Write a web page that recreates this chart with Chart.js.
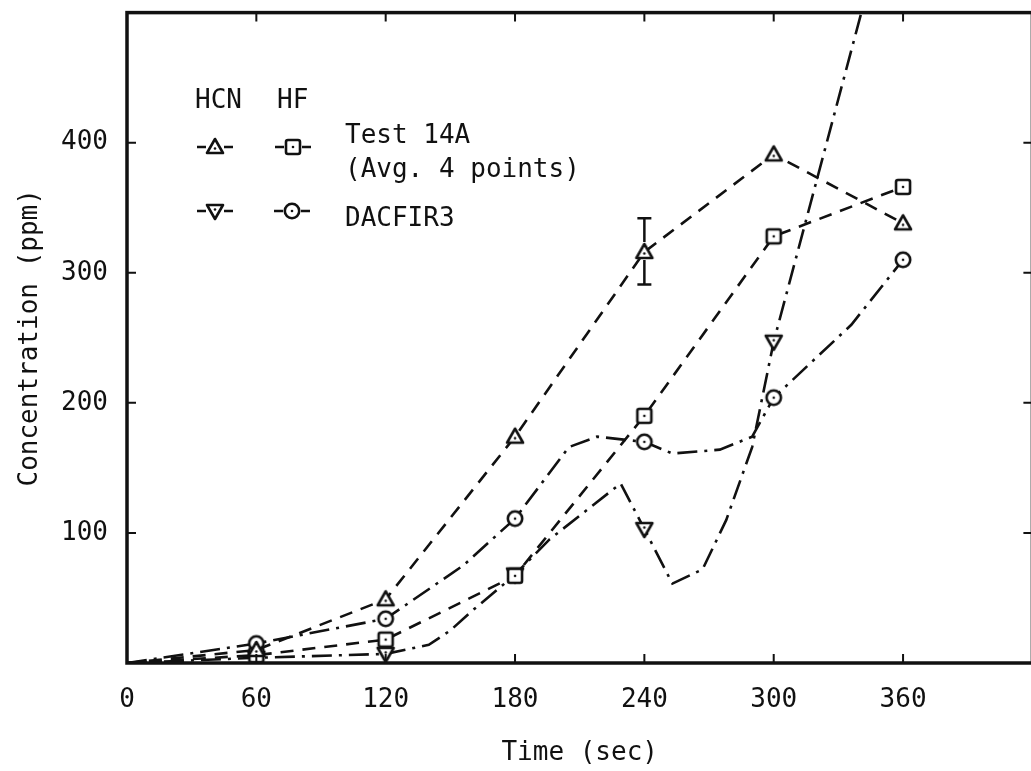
<!DOCTYPE html>
<html>
<head>
<meta charset="utf-8">
<script src="https://cdn.jsdelivr.net/npm/chart.js@4"></script>
<style>
  html, body { margin: 0; padding: 0; background: #fff; overflow: hidden; }
  canvas { display: block; margin-top: -22px; }
</style>
</head>
<body>
<canvas id="c" width="1043" height="793"></canvas>
<script>
// Test 14A, measured (sec / ppm)
const testTimes = [0, 60, 120, 180, 240, 300, 360];
const testHCN = [0, 10, 49, 174, 316, 391, 338];
const testHF = [0, 6, 18, 67, 190, 328, 366];

// error bar on HCN at 240 s
const errTimes = [240];
const errLow = [291];
const errHigh = [342];

// DACFIR3 model curves
const dacHcnTimes = [0, 60, 120, 140, 150, 160, 173, 180, 196, 229, 240, 253, 267, 278, 290, 300, 345];
const dacHcnVals = [0, 4, 7, 14, 25, 40, 58, 68, 95, 138, 103, 61, 72, 110, 166, 247, 527];
const dacHfTimes = [0, 60, 120, 156, 180, 205, 218, 240, 253, 275, 290, 300, 336, 360];
const dacHfVals = [0, 15, 34, 75, 111, 166, 174, 170, 161, 164, 174, 204, 260, 310];

const markerTimes = [60, 120, 180, 240, 300, 360];
const xTicks = [0, 60, 120, 180, 240, 300, 360];
const yTicks = [100, 200, 300, 400];

const FONT = "'DejaVu Sans Mono', monospace";
const INK = '#111';
const SHIFT = 22; // canvas is pulled up by this many px

function makeMarker(shape) {
  const c = document.createElement('canvas');
  c.width = 22; c.height = 22;
  const g = c.getContext('2d');
  g.lineWidth = 2.6;
  g.strokeStyle = INK;
  g.fillStyle = '#fff';
  g.lineJoin = 'round';
  g.beginPath();
  let dy = 11;
  if (shape === 'up') {
    g.moveTo(11, 3); g.lineTo(19, 17); g.lineTo(3, 17); g.closePath(); dy = 12.5;
  } else if (shape === 'down') {
    g.moveTo(3, 5); g.lineTo(19, 5); g.lineTo(11, 19); g.closePath(); dy = 9.5;
  } else if (shape === 'square') {
    g.roundRect ? g.roundRect(4, 4, 14, 14, 2) : g.rect(4, 4, 14, 14);
  } else {
    g.arc(11, 11, 7.2, 0, Math.PI * 2);
  }
  g.fill(); g.stroke();
  g.fillStyle = INK;
  g.beginPath(); g.arc(11, dy, 1.3, 0, Math.PI * 2); g.fill();
  return c;
}
const mUp = makeMarker('up'), mDown = makeMarker('down'), mSq = makeMarker('square'), mCirc = makeMarker('circle');

const pts = (t, v) => t.map((x, i) => ({ x, y: v[i] }));
const markRadius = ctx => (ctx.raw && markerTimes.includes(ctx.raw.x)) ? 8 : 0;
const DASH = [13, 9];
const DASHDOT = [20, 7, 3, 7];

const framePlugin = {
  id: 'frame',
  afterDraw(chart) {
    const { ctx, chartArea: a, scales: { x, y } } = chart;
    ctx.save();
    ctx.strokeStyle = INK;
    // error bar
    ctx.lineWidth = 2.5;
    errTimes.forEach((t, i) => {
      const px = x.getPixelForValue(t);
      const lo = y.getPixelForValue(errLow[i]);
      const hi = y.getPixelForValue(errHigh[i]);
      const mid = y.getPixelForValue(testHCN[testTimes.indexOf(t)]);
      ctx.beginPath();
      ctx.moveTo(px, hi); ctx.lineTo(px, mid - 10);
      ctx.moveTo(px, mid + 8); ctx.lineTo(px, lo);
      ctx.moveTo(px - 7, hi); ctx.lineTo(px + 7, hi);
      ctx.moveTo(px - 7, lo); ctx.lineTo(px + 7, lo);
      ctx.stroke();
    });
    // frame
    ctx.lineWidth = 3.5;
    ctx.strokeRect(a.left, a.top, a.right - a.left, a.bottom - a.top);
    // inward ticks
    ctx.lineWidth = 2;
    ctx.beginPath();
    markerTimes.forEach(t => {
      const px = x.getPixelForValue(t);
      ctx.moveTo(px, a.bottom); ctx.lineTo(px, a.bottom - 9);
      ctx.moveTo(px, a.top); ctx.lineTo(px, a.top + 9);
    });
    yTicks.forEach(v => {
      const py = y.getPixelForValue(v);
      ctx.moveTo(a.left, py); ctx.lineTo(a.left + 9, py);
      ctx.moveTo(a.right, py); ctx.lineTo(a.right - 9, py);
    });
    ctx.stroke();

    // legend (positions in page pixels)
    ctx.translate(0, SHIFT);
    ctx.fillStyle = INK;
    ctx.font = "26px " + FONT;
    ctx.textBaseline = 'middle';
    ctx.textAlign = 'left';
    ctx.fillText('HCN', 195, 101);
    ctx.fillText('HF', 277, 101);
    ctx.fillText('Test 14A', 345, 136);
    ctx.fillText('(Avg. 4 points)', 345, 170);
    ctx.fillText('DACFIR3', 345, 219);
    ctx.lineWidth = 2.5;
    const sym = (img, cx, cy) => {
      ctx.beginPath();
      ctx.moveTo(cx - 18, cy); ctx.lineTo(cx - 9, cy);
      ctx.moveTo(cx + 9, cy); ctx.lineTo(cx + 18, cy);
      ctx.stroke();
      ctx.drawImage(img, cx - 11, cy - 11);
    };
    sym(mUp, 215, 147);
    sym(mSq, 293, 147);
    sym(mDown, 215, 211);
    sym(mCirc, 292, 211);
    ctx.restore();
  }
};

new Chart(document.getElementById('c'), {
  type: 'line',
  data: {
    datasets: [
      { label: 'HCN Test 14A', data: pts(testTimes, testHCN), borderDash: DASH, pointStyle: mUp },
      { label: 'HF Test 14A', data: pts(testTimes, testHF), borderDash: DASH, pointStyle: mSq },
      { label: 'HCN DACFIR3', data: pts(dacHcnTimes, dacHcnVals), borderDash: DASHDOT, pointStyle: mDown },
      { label: 'HF DACFIR3', data: pts(dacHfTimes, dacHfVals), borderDash: DASHDOT, pointStyle: mCirc }
    ].map(d => Object.assign({
      borderColor: INK,
      borderWidth: 2.6,
      fill: false,
      tension: 0,
      pointRadius: markRadius,
      pointHoverRadius: markRadius
    }, d))
  },
  options: {
    responsive: false,
    animation: false,
    events: [],
    layout: { padding: { top: 12, right: 8, left: 0, bottom: 0 } },
    plugins: { legend: { display: false }, tooltip: { enabled: false } },
    scales: {
      x: {
        type: 'linear',
        min: 0, max: 420,
        afterFit: s => { s.height = 108; },
        afterBuildTicks: s => { s.ticks = xTicks.map(v => ({ value: v })); },
        grid: { display: false, drawTicks: false },
        border: { display: false },
        ticks: { color: INK, padding: 22, font: { family: FONT, size: 26 } },
        title: { display: true, text: 'Time (sec)', color: INK, padding: { top: 0, bottom: 2 }, font: { family: FONT, size: 26 } }
      },
      y: {
        min: 0, max: 500,
        afterFit: s => { s.width = 127; },
        afterBuildTicks: s => { s.ticks = yTicks.map(v => ({ value: v })); },
        grid: { display: false, drawTicks: false },
        border: { display: false },
        ticks: { color: INK, padding: 19, font: { family: FONT, size: 26 } },
        title: { display: true, text: 'Concentration (ppm)', color: INK, padding: { top: 15, bottom: 0 }, font: { family: FONT, size: 26 } }
      }
    }
  },
  plugins: [framePlugin]
});
</script>
</body>
</html>
